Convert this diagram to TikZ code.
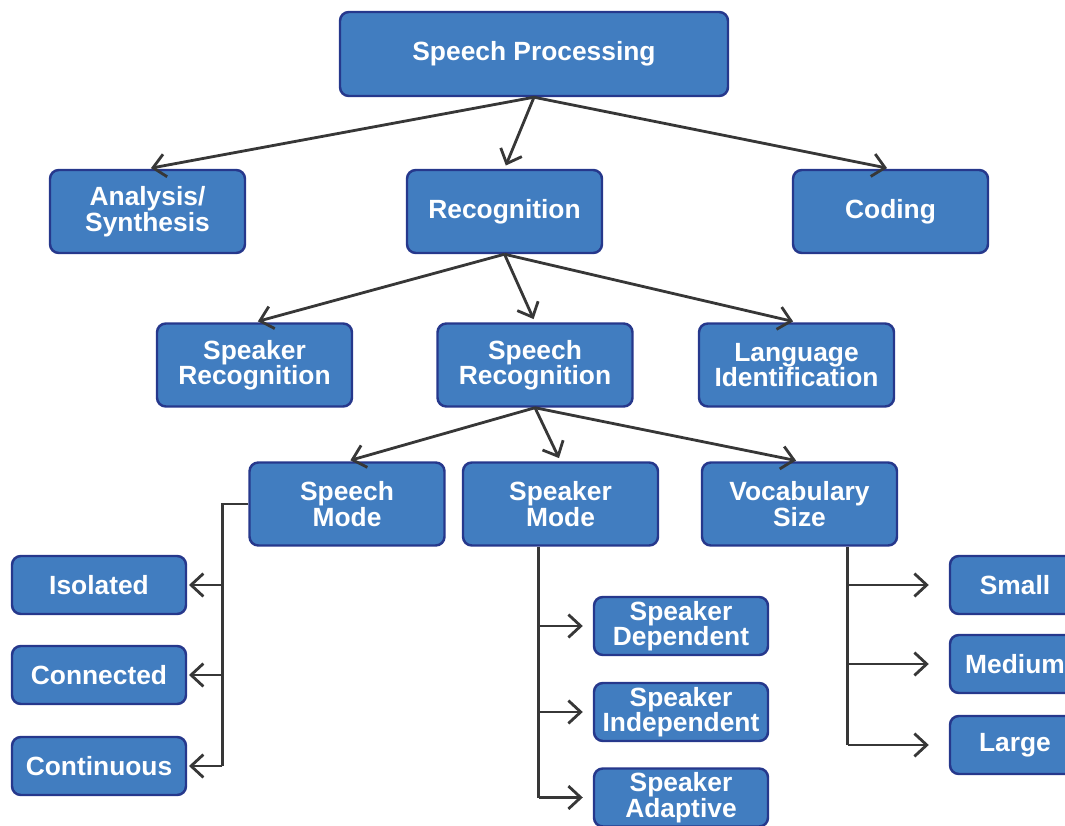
\documentclass[tikz,border=0pt]{standalone}
\usepackage{fontspec}
\setmainfont{Liberation Sans}
\definecolor{boxBlue}{RGB}{65, 125, 192}
\definecolor{boxEdge}{RGB}{38, 56, 140}
\definecolor{linkGray}{RGB}{55, 55, 55}
\usetikzlibrary{positioning, calc, arrows.meta}

\begin{document}
\begin{tikzpicture}[
    box/.style={draw=boxEdge, fill=boxBlue, line width=1.4pt, rounded corners=5pt,
      text=white, align=center, inner sep=0pt,
      font=\fontsize{15}{14.5}\selectfont\bfseries,
      minimum width=3.9cm, minimum height=1.66cm},
    leafbox/.style={box, minimum width=3.48cm, minimum height=1.16cm},
    link/.style={linkGray, line width=1.6pt},
    arr/.style={link, -{Straight Barb[length=7pt, width=13pt, line width=1.6pt]}, shorten >=2pt},
  ]
    \useasboundingbox (0,0) rectangle (21.3,-16.52);

    % Levels 1 and 2
    \node[box, minimum width=7.76cm, minimum height=1.68cm] (proc) at (10.68,-1.08) {Speech Processing};
    \node[box] (ana) at (2.95,-4.23) {Analysis/\\Synthesis};
    \node[box] (rec) at (10.09,-4.23) {Recognition};
    \node[box] (cod) at (17.81,-4.23) {Coding};

    % Level 3
    \node[box] (spk) at (5.09,-7.3) {Speaker\\Recognition};
    \node[box] (spr) at (10.70,-7.3) {Speech\\Recognition};
    \node[box] (lang) at (15.93,-7.3) {Language\\Identification};

    % Level 4
    \node[box] (smode) at (6.94,-10.08) {Speech\\Mode};
    \node[box] (kmode) at (11.21,-10.08) {Speaker\\Mode};
    \node[box] (voc) at (15.99,-10.08) {Vocabulary\\Size};

    % Leaves
    \node[leafbox] (iso) at (1.98,-11.70) {Isolated};
    \node[leafbox] (con) at (1.98,-13.50) {Connected};
    \node[leafbox] (cont) at (1.98,-15.32) {Continuous};
    \node[leafbox] (dep) at (13.62,-12.52) {Speaker\\Dependent};
    \node[leafbox] (ind) at (13.62,-14.24) {Speaker\\Independent};
    \node[leafbox] (ada) at (13.62,-15.95) {Speaker\\Adaptive};
    \node[leafbox, minimum width=2.6cm] (small) at (20.30,-11.70) {Small};
    \node[leafbox, minimum width=2.6cm] (med) at (20.30,-13.28) {Medium};
    \node[leafbox, minimum width=2.6cm] (large) at (20.30,-14.90) {Large};

    % Tree arrows
    \foreach \a/\b in {proc/ana, proc/rec, proc/cod, rec/spk, rec/spr, rec/lang,
                       spr/smode, spr/kmode, spr/voc} {
      \draw[arr] (\a.south) -- (\b.north);
    }

    % Speech mode branches
    \coordinate[left=0.52cm of smode.west] (sbus);
    \draw[link] (smode.west) -- (sbus) -- (sbus |- cont.east);
    \foreach \n in {iso, con, cont} {
      \draw[arr, shorten >=1pt] (sbus |- \n.east) -- (\n.east);
    }

    % Speaker mode branches
    \coordinate (kbus) at ([xshift=-0.44cm]kmode.south);
    \draw[link] (kbus) -- (kbus |- ada.west);
    \foreach \n in {dep, ind, ada} {
      \draw[arr, shorten >=0.2cm] (kbus |- \n.west) -- (\n.west);
    }

    % Vocabulary branches
    \coordinate (vbus) at ([xshift=0.96cm]voc.south);
    \draw[link] (vbus) -- (vbus |- large.west);
    \foreach \n in {small, med, large} {
      \draw[arr, shorten >=0.4cm] (vbus |- \n.west) -- (\n.west);
    }
  \end{tikzpicture}
\end{document}
